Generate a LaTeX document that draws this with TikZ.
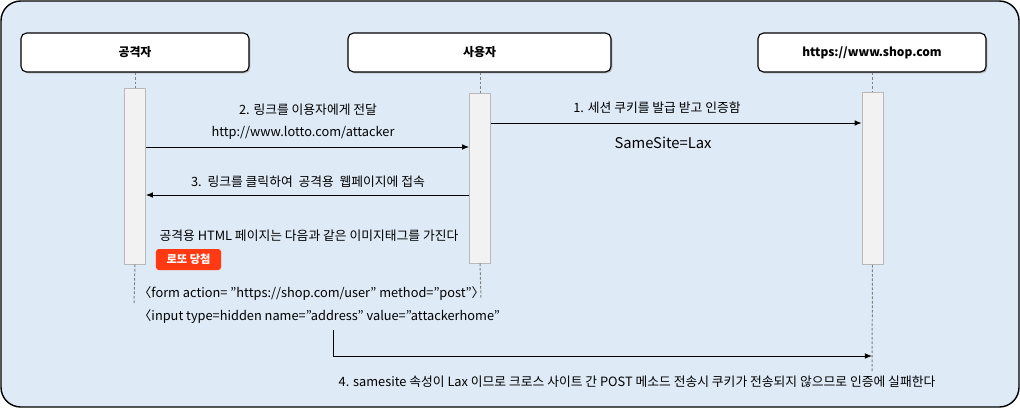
\documentclass[tikz,border=0pt]{standalone}
\usepackage{fontspec}
\setmainfont[Ligatures=ResetAll]{Noto Sans CJK KR}
\usetikzlibrary{arrows.meta,shadows}
\definecolor{bgblue}{HTML}{DEEAF6}
\definecolor{barfill}{HTML}{F2F2F2}
\definecolor{badgered}{HTML}{FF3A12}
\tikzset{
	actor/.style={draw,line width=0.8pt,rounded corners=4pt,fill=white,minimum height=0.975cm,
		font=\bfseries\fontsize{8.5}{10}\selectfont,
		drop shadow={opacity=0.45,shadow xshift=1pt,shadow yshift=-1pt}},
	bar/.style={draw=gray!55,fill=barfill,minimum width=0.53cm,inner sep=0pt},
	life/.style={gray,line width=0.7pt,dash pattern=on 2pt off 1.2pt},
	msg/.style={-{Latex[length=5pt,width=4pt]},line width=0.7pt},
	lbl/.style={font=\fontsize{9.1}{11}\selectfont,inner sep=1pt}
}
\begin{document}
\begin{tikzpicture}[x=0.025cm,y=-0.025cm]
	\useasboundingbox (0,0) rectangle (1020,408);
	\draw[line width=1pt,fill=bgblue,rounded corners=14pt] (1,1) rectangle (1019,407);
	% actors
	\node[actor,minimum width=5.7cm] (att) at (135,52.5) {공격자};
	\node[actor,minimum width=6.575cm] (usr) at (479.5,52.5) {사용자};
	\node[actor,minimum width=5.7cm] (shop) at (872,52.5) {https://www.shop.com};
	% activation bars
	\node[bar,minimum height=4.4cm] (attbar) at (135,176) {};
	\node[bar,minimum height=4.25cm] (usrbar) at (480,178) {};
	\node[bar,minimum height=4.3cm] (shopbar) at (872.5,178.5) {};
	\path
	(134,304) coordinate (attend)
	(481,298) coordinate (usrend)
	(872,371) coordinate (shopend)
	(333,330) coordinate (formpt)
	;
	\foreach \a/\b in {att/attbar,usr/usrbar,shop/shopbar}
		\draw[life] (\a.south -| \b) -- (\b.north);
	\draw[life] (attbar.south) -- (attend);
	\draw[life] (usrbar.south) -- (usrend);
	\draw[life] (shopbar.south) -- (shopend);
	% 1
	\draw[msg] (usrbar.east |- 0,123) -- (shopbar.west |- 0,123);
	\node[lbl] (m1) at (657,108) {1. 세션 쿠키를 발급 받고 인증함};
	\node[font=\fontsize{10.5}{12}\selectfont] (lax) at (663,143) {SameSite=Lax};
	% 2
	\draw[msg] (attbar.east |- 0,147) -- (usrbar.west |- 0,147);
	\node[lbl] (m2) at (308,110) {2. 링크를 이용자에게 전달};
	\node[lbl] (url) at (303,133) {http://www.lotto.com/attacker};
	% 3
	\draw[msg] (usrbar.west |- 0,195) -- (attbar.east |- 0,195);
	\node[lbl] (m3) at (308,182) {3.\ \ 링크를 클릭하여\ \ 공격용\ \ 웹페이지에 접속};
	% html
	\node[lbl] (html) at (309,236) {공격용 HTML 페이지는 다음과 같은 이미지태그를 가진다};
	\node[fill=badgered,rounded corners=2pt,minimum width=1.625cm,minimum height=0.525cm,
		text=white,font=\bfseries\fontsize{8}{10}\selectfont] (lotto) at (188.5,259.5) {로또 당첨};
	\node[lbl,anchor=west] (form) at (137,294) {〈form action= "https://shop.com/user" method="post"〉};
	\node[lbl,anchor=west] (input) at (137,317) {〈input type=hidden name="address" value="attackerhome"};
	% 4
	\draw[msg] (formpt) |- (shopend |- 0,356);
	\node[lbl] (m4) at (637,382) {4. samesite 속성이 Lax 이므로 크로스 사이트 간 POST 메소드 전송시 쿠키가 전송되지 않으므로 인증에 실패한다};
\end{tikzpicture}
\end{document}
